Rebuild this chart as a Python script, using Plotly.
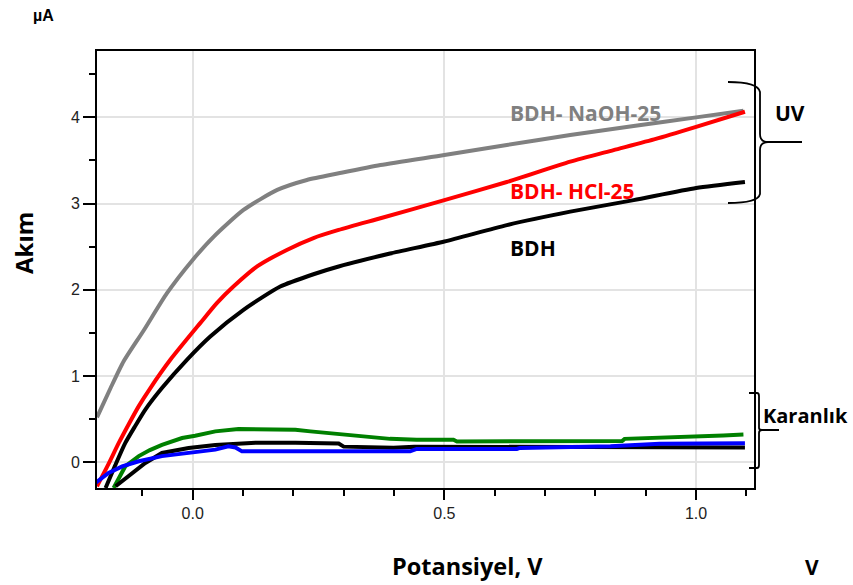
import plotly.graph_objects as go

# ---- data ----
naoh_x = [-0.19, -0.163, -0.137, -0.097, -0.051, 0.0, 0.042, 0.101, 0.168, 0.227, 0.29,
          0.373, 0.5, 0.624, 0.75, 0.876, 1.0, 1.094]
naoh_y = [0.52, 0.86, 1.17, 1.53, 1.96, 2.346, 2.617, 2.926, 3.158, 3.274, 3.351,
          3.447, 3.563, 3.68, 3.795, 3.90, 4.0, 4.076]

hcl_x = [-0.19, -0.167, -0.147, -0.127, -0.107, -0.084, -0.044, 0.015, 0.048, 0.081, 0.128,
         0.187, 0.24, 0.29, 0.373, 0.5, 0.624, 0.75, 0.836, 0.92, 1.0, 1.097]
hcl_y = [-0.28, -0.02, 0.22, 0.44, 0.65, 0.86, 1.19, 1.613, 1.845, 2.037, 2.27,
         2.462, 2.60, 2.694, 2.83, 3.04, 3.25, 3.486, 3.62, 3.75, 3.89, 4.065]

bdh_x = [-0.173, -0.154, -0.134, -0.114, -0.094, -0.061, -0.011, 0.035, 0.101, 0.174, 0.24,
         0.29, 0.392, 0.5, 0.624, 0.75, 0.876, 1.0, 1.097]
bdh_y = [-0.30, -0.04, 0.22, 0.42, 0.61, 0.86, 1.19, 1.458, 1.767, 2.037, 2.18,
         2.27, 2.42, 2.56, 2.75, 2.906, 3.04, 3.18, 3.25]

dark_green_x = [-0.157, -0.134, -0.107, -0.085, -0.061, -0.04, -0.021, 0.005, 0.045, 0.091, 0.15,
                0.204, 0.234, 0.273, 0.313, 0.353, 0.392, 0.445, 0.518, 0.525, 0.71, 0.853,
                0.858, 0.988, 1.054, 1.094]
dark_green_y = [-0.30, -0.05, 0.07, 0.14, 0.20, 0.245, 0.28, 0.307, 0.357, 0.385, 0.385,
                0.377, 0.357, 0.338, 0.318, 0.30, 0.27, 0.26, 0.26, 0.24, 0.24, 0.245,
                0.27, 0.29, 0.31, 0.32]

dark_black_x = [-0.153, -0.127, -0.094, -0.061, -0.03, -0.008, 0.045, 0.125, 0.204, 0.29, 0.30,
                0.399, 0.44, 0.8, 1.097]
dark_black_y = [-0.28, -0.16, -0.01, 0.107, 0.145, 0.165, 0.2, 0.225, 0.225, 0.215, 0.18,
                0.168, 0.18, 0.175, 0.17]

dark_blue_x = [-0.193, -0.167, -0.14, -0.107, -0.061, 0.0, 0.045, 0.071, 0.085, 0.098, 0.204,
               0.432, 0.445, 0.644, 0.65, 0.83, 0.928, 0.995, 1.097]
dark_blue_y = [-0.24, -0.125, -0.05, 0.01, 0.07, 0.107, 0.145, 0.183, 0.17, 0.125, 0.125,
               0.125, 0.153, 0.153, 0.165, 0.183, 0.214, 0.22, 0.22]

x_ticks = [0.0, 0.5, 1.0]
x_ticklabels = ["0.0", "0.5", "1.0"]
y_ticks = [0, 1, 2, 3, 4]

# ---- layout geometry ----
W, H = 853, 585
L, R, T, B = 97, 754, 51, 488


def px(xp):
    return (xp - L) / (R - L)


def py(yp):
    return (B - yp) / (B - T)


fig = go.Figure()

series = [
    (naoh_x, naoh_y, "#808080", "spline"),
    (hcl_x, hcl_y, "#ff0000", "spline"),
    (bdh_x, bdh_y, "#000000", "spline"),
    (dark_green_x, dark_green_y, "#008000", "linear"),
    (dark_black_x, dark_black_y, "#000000", "linear"),
    (dark_blue_x, dark_blue_y, "#0000ff", "linear"),
]
for xs, ys, c, shp in series:
    fig.add_trace(go.Scatter(x=xs, y=ys, mode="lines",
                             line=dict(color=c, width=4, shape=shp, smoothing=0.6),
                             showlegend=False, hoverinfo="skip"))

tickfont = dict(family="Liberation Sans, Arial", size=16, color="#222")
fig.update_xaxes(range=[-0.19, 1.115], tickvals=x_ticks, ticktext=x_ticklabels,
                 ticks="outside", ticklen=10, tickwidth=1.5, tickcolor="black",
                 minor=dict(dtick=0.1, tick0=0, ticks="outside", ticklen=6,
                            tickwidth=1.5, tickcolor="black", showgrid=False),
                 showgrid=True, gridcolor="#e3e3e3", gridwidth=1.5,
                 showline=True, linecolor="black", linewidth=2, mirror=True,
                 zeroline=False, tickfont=tickfont)
fig.update_yaxes(range=[-0.30, 4.77], tickvals=y_ticks,
                 ticks="outside", ticklen=12, tickwidth=1.5, tickcolor="black",
                 minor=dict(dtick=0.5, tick0=0, ticks="outside", ticklen=6,
                            tickwidth=1.5, tickcolor="black", showgrid=False),
                 showgrid=True, gridcolor="#e3e3e3", gridwidth=1.5,
                 showline=True, linecolor="black", linewidth=2, mirror=True,
                 zeroline=False, tickfont=tickfont)

lab_font = "Open Sans, Noto Sans, sans-serif"
ann = []
# curve labels (data coordinates)
ann.append(dict(x=0.626, y=4.05, xref="x", yref="y", text="<b>BDH- NaOH-25</b>",
                showarrow=False, xanchor="left", yanchor="middle",
                font=dict(family=lab_font, size=21, color="#808080")))
ann.append(dict(x=0.626, y=3.15, xref="x", yref="y", text="<b>BDH- HCl-25</b>",
                showarrow=False, xanchor="left", yanchor="middle",
                font=dict(family=lab_font, size=21, color="#ff0000")))
ann.append(dict(x=0.626, y=2.49, xref="x", yref="y", text="<b>BDH</b>",
                showarrow=False, xanchor="left", yanchor="middle",
                font=dict(family=lab_font, size=21, color="#000000")))
# side texts (paper coordinates)
ann.append(dict(x=px(790), y=py(113), xref="paper", yref="paper", text="<b>UV</b>",
                showarrow=False, xanchor="center", yanchor="middle",
                font=dict(family=lab_font, size=21, color="black")))
ann.append(dict(x=px(805), y=py(415), xref="paper", yref="paper", text="<b>Karanlık</b>",
                showarrow=False, xanchor="center", yanchor="middle",
                font=dict(family=lab_font, size=20, color="black")))
ann.append(dict(x=px(23), y=py(243), xref="paper", yref="paper", text="<b>Akım</b>",
                showarrow=False, xanchor="center", yanchor="middle", textangle=-90,
                font=dict(family=lab_font, size=24, color="black")))
ann.append(dict(x=px(467), y=py(566), xref="paper", yref="paper", text="<b>Potansiyel, V</b>",
                showarrow=False, xanchor="center", yanchor="middle",
                font=dict(family=lab_font, size=23.5, color="black")))
ann.append(dict(x=px(812), y=py(567), xref="paper", yref="paper", text="<b>V</b>",
                showarrow=False, xanchor="center", yanchor="middle",
                font=dict(family=lab_font, size=21, color="black")))
ann.append(dict(x=px(43), y=py(16), xref="paper", yref="paper", text="<b>µA</b>",
                showarrow=False, xanchor="center", yanchor="middle",
                font=dict(family="Liberation Sans, Arial", size=16, color="black")))


def P(a, b):
    return f"{px(a):.5f},{py(b):.5f}"


# UV brace
uv_path = (f"M {P(728, 82)} Q {P(758, 82)} {P(760, 92)} L {P(760, 134)} "
           f"Q {P(760, 142)} {P(768, 142)} L {P(802, 142)} "
           f"M {P(768, 142)} Q {P(760, 142)} {P(760, 150)} L {P(760, 194)} "
           f"Q {P(758, 203)} {P(728, 203)}")
# Karanlık brace
dk_path = (f"M {P(749, 393)} L {P(757, 393)} Q {P(759, 393)} {P(759, 396)} L {P(759, 428)} "
           f"Q {P(759, 430)} {P(762, 430)} L {P(779, 430)} "
           f"M {P(762, 430)} Q {P(759, 430)} {P(759, 433)} L {P(759, 465)} "
           f"Q {P(759, 468)} {P(757, 468)} L {P(749, 468)}")
shapes = [
    dict(type="path", path=uv_path, xref="paper", yref="paper",
         line=dict(color="black", width=1.8)),
    dict(type="path", path=dk_path, xref="paper", yref="paper",
         line=dict(color="black", width=1.8)),
]

fig.update_layout(width=W, height=H, margin=dict(l=L, r=W - R, t=T, b=H - B),
                  plot_bgcolor="white", paper_bgcolor="white",
                  annotations=ann, shapes=shapes)

fig.write_html("out.html")
